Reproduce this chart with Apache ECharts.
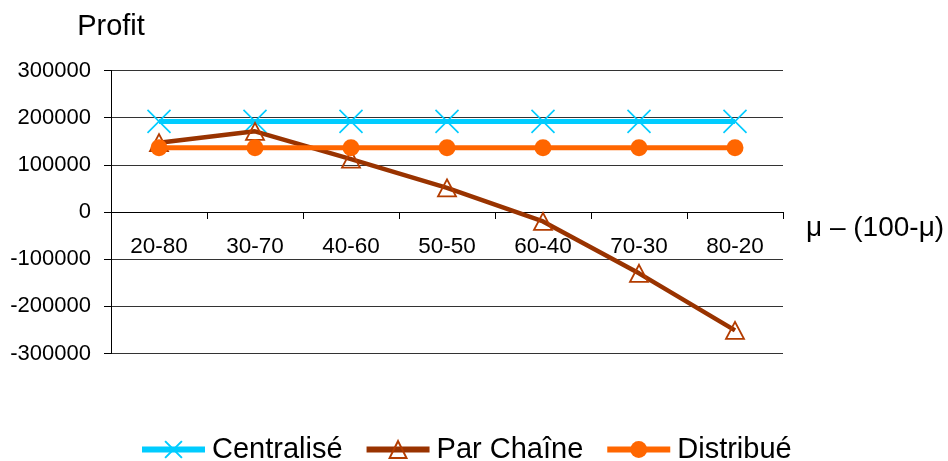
<!DOCTYPE html>
<html>
<head>
<meta charset="utf-8">
<script src="https://cdn.jsdelivr.net/npm/echarts@6/dist/echarts.min.js"></script>
<style>html,body{margin:0;padding:0;background:#fff}#c{width:948px;height:461px}</style>
</head>
<body>
<div id="c"></div>
<script>
const categories = ['20-80','30-70','40-60','50-50','60-40','70-30','80-20'];
const centralise = [192000,192000,192000,192000,192000,192000,192000];
const parChaine = [147000,171000,112000,51000,-20000,-130000,-251000];
const distribue = [136000,136000,136000,136000,136000,136000,136000];
const yTicks = [-300000,-200000,-100000,0,100000,200000,300000];

const chart = echarts.init(document.getElementById('c'), null, {renderer:'canvas'});
const font = 'Liberation Sans, Arial, sans-serif';
chart.setOption({
  animation: false,
  backgroundColor: '#fff',
  grid: {left: 111, right: 165, top: 70.5, bottom: 107.5, containLabel: false},
  legend: {
    top: 430, left: 134,
    itemWidth: 63, itemHeight: 21, itemGap: 21,
    textStyle: {fontFamily: font, fontSize: 29, color: '#000', padding: [0,0,0,2]},
    lineStyle: {width: 6},
    data: ['Centralisé','Par Chaîne','Distribué']
  },
  xAxis: {
    type: 'category', data: categories,
    position: 'bottom', offset: -141.5,
    name: 'μ – (100-μ)', nameLocation: 'end', nameGap: 23,
    nameTextStyle: {fontFamily: font, fontSize: 28, color: '#000', verticalAlign: 'top', align: 'left', padding: [2,0,0,0]},
    axisLine: {show: true, onZero: false, lineStyle: {color: '#000', width: 1}},
    axisTick: {show: true, length: 7, inside: false, alignWithLabel: false, lineStyle: {color: '#000'}},
    axisLabel: {fontFamily: font, fontSize: 22.5, color: '#000', margin: 23},
    splitLine: {show: false}
  },
  yAxis: {
    type: 'value', min: yTicks[0], max: yTicks[yTicks.length-1], interval: 100000,
    name: 'Profit', nameLocation: 'end', nameGap: 29,
    nameTextStyle: {fontFamily: font, fontSize: 29, color: '#000', align: 'center'},
    axisLine: {show: true, lineStyle: {color: '#000', width: 1}},
    axisTick: {show: true, length: 7, lineStyle: {color: '#000'}},
    axisLabel: {fontFamily: font, fontSize: 22, color: '#000', margin: 20, formatter: v => String(v)},
    splitLine: {show: true, lineStyle: {color: '#333', width: 1}}
  },
  series: [
    {
      name: 'Centralisé', type: 'line', data: centralise,
      symbol: 'path://M0,0L20,20M20,0L0,20', symbolSize: 23, showAllSymbol: true,
      lineStyle: {color: '#00CCFF', width: 5},
      itemStyle: {color: '#00CCFF', borderColor: '#00CCFF', borderWidth: 1.6},
      z: 2
    },
    {
      name: 'Par Chaîne', type: 'line', data: parChaine,
      symbol: 'triangle', symbolSize: [18,17], showAllSymbol: true,
      lineStyle: {color: '#993300', width: 4.5},
      itemStyle: {color: 'rgba(255,255,255,0)', borderColor: '#B33C00', borderWidth: 1.8},
      z: 3
    },
    {
      name: 'Distribué', type: 'line', data: distribue,
      symbol: 'circle', symbolSize: 17, showAllSymbol: true,
      lineStyle: {color: '#FF6600', width: 5},
      itemStyle: {color: '#FF6600'},
      z: 4
    }
  ]
});
</script>
</body>
</html>
